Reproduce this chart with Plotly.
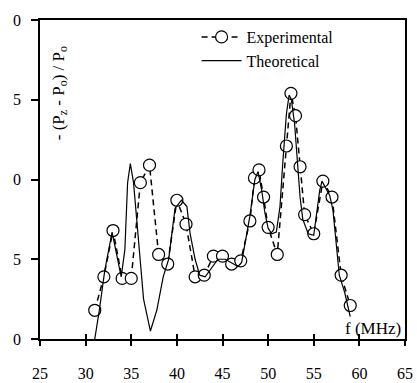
import plotly.graph_objects as go

# Experimental data (circles, dashed line)
exp_f = [31, 32, 33, 34, 35, 36, 37, 38, 39, 40, 41, 42, 43, 44, 45, 46, 47, 48,
         48.5, 49, 49.5, 50, 51, 52, 52.5, 53, 53.5, 54, 55, 56, 57, 58, 59]
exp_v = [1.8, 3.9, 6.8, 3.8, 3.8, 9.8, 10.9, 5.3, 4.7, 8.7, 7.2, 3.9, 4.0, 5.2, 5.2, 4.7, 4.9, 7.4,
         10.1, 10.6, 8.9, 7.0, 5.3, 12.1, 15.4, 14.0, 10.8, 7.8, 6.6, 9.9, 8.9, 4.0, 2.1]

# Theoretical curve (solid line)
th_f = [31.0, 31.5, 32.1, 32.9, 33.9, 34.3, 34.6, 34.9, 35.25, 35.8, 36.35, 37.1, 37.8, 38.5,
        39.1, 39.8, 40.5, 41.1, 41.45, 42.0, 42.5, 43.1, 43.8, 44.5, 45.3, 46.0, 46.7, 47.1,
        47.5, 48.0, 48.55, 48.9, 49.3, 49.65, 50.0, 50.4, 50.9, 51.3, 51.6, 52.0, 52.3, 52.55,
        52.9, 53.1, 53.3, 53.5, 53.8, 54.4, 55.0, 55.3, 55.65, 55.9, 56.75, 57.1, 57.5, 57.8,
        58.4, 59.0]
th_v = [0.0, 1.8, 4.3, 6.7, 3.9, 5.6, 9.8, 11.0, 9.8, 6.0, 2.5, 0.5, 1.8, 3.9,
        5.0, 8.2, 8.7, 8.3, 6.6, 5.0, 4.0, 3.9, 4.45, 5.0, 5.0, 4.8, 4.55, 4.8,
        6.0, 7.7, 10.0, 10.5, 9.3, 7.9, 6.95, 6.6, 6.7, 8.3, 11.0, 14.1, 15.3, 15.0,
        13.5, 12.0, 10.4, 8.9, 7.5, 6.6, 6.5, 7.7, 9.3, 9.9, 9.0, 8.1, 6.0, 4.0,
        2.9, 1.4]

x_ticks = [25, 30, 35, 40, 45, 50, 55, 60, 65]
y_ticks = [0, 5, 10, 15, 20]
y_ticktext = ["0", "5", "0", "5", "0"]

FONT = "Liberation Serif"

fig = go.Figure()
fig.add_trace(go.Scatter(
    x=exp_f, y=exp_v, mode="lines+markers", name="Experimental",
    line=dict(color="black", width=1.5, dash="6px,4px"),
    marker=dict(symbol="circle", size=12, color="white", line=dict(color="black", width=1.2)),
))
fig.add_trace(go.Scatter(
    x=th_f, y=th_v, mode="lines", name="Theoretical",
    line=dict(color="black", width=1.2),
))
# invisible helper trace for the inner half of crossing x ticks
fig.add_trace(go.Scatter(x=[25], y=[0], xaxis="x2", mode="markers",
                         marker=dict(opacity=0), showlegend=False, hoverinfo="skip"))

fig.update_layout(
    width=417, height=383,
    margin=dict(l=40, r=12, t=20, b=44, autoexpand=False),
    paper_bgcolor="white", plot_bgcolor="white",
    font=dict(family=FONT, size=16, color="black"),
    showlegend=True,
    legend=dict(x=0.429, y=1.0, xanchor="left", yanchor="top",
                bgcolor="rgba(0,0,0,0)", font=dict(family=FONT, size=16),
                tracegroupgap=0, itemwidth=40),
    xaxis=dict(range=[25, 65], tickvals=x_ticks, ticks="outside", ticklen=5,
               tickwidth=1.5, tickcolor="black", showline=True, linecolor="black",
               linewidth=1.5, mirror=True, showgrid=False, zeroline=False, automargin=False,
               ticklabelstandoff=14, tickfont=dict(family=FONT, size=16)),
    xaxis2=dict(range=[25, 65], tickvals=x_ticks, ticks="inside", ticklen=5,
                tickwidth=1.5, tickcolor="black", overlaying="x", side="bottom",
                showticklabels=False, showgrid=False, zeroline=False, showline=False,
                automargin=False),
    yaxis=dict(range=[0, 20], tickvals=y_ticks, ticktext=y_ticktext, ticks="outside",
               ticklen=7, tickwidth=1.5, tickcolor="black", showline=True,
               linecolor="black", linewidth=1.5, mirror=True, showgrid=False, automargin=False,
               zeroline=False, ticklabelstandoff=7, tickfont=dict(family=FONT, size=16)),
    annotations=[
        dict(text="- (P<sub>z</sub> - P<sub>o</sub>) / P<sub>o</sub>", textangle=-90,
             xref="paper", yref="paper", x=(60 - 40) / 365.5, y=(339.5 - 93) / 320,
             xanchor="center", yanchor="middle", showarrow=False,
             font=dict(family=FONT, size=17)),
        dict(text="f (MHz)", xref="paper", yref="paper", x=(403 - 40) / 365.5,
             y=(339.5 - 329) / 320, xanchor="right", yanchor="middle", showarrow=False,
             font=dict(family=FONT, size=17)),
    ],
)

fig.write_html("out.html", config={"displayModeBar": False},
               post_script="document.body.style.margin='0';")
